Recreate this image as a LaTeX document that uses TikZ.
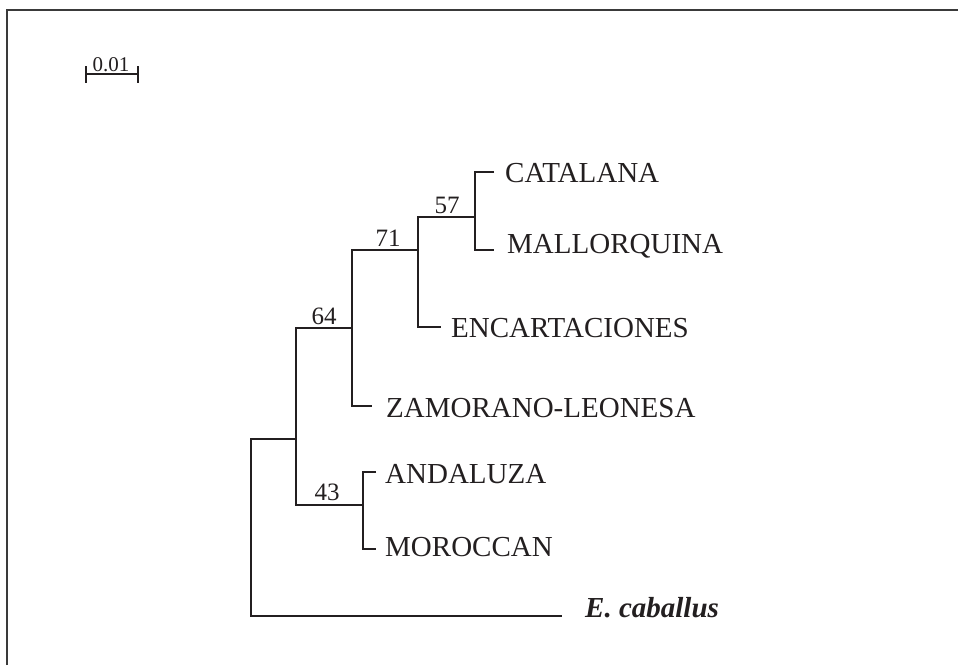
\documentclass[tikz,border=0pt]{standalone}
\usepackage{fontspec}
\setmainfont{Liberation Serif}
\usepackage{tikz}
\definecolor{ink}{HTML}{231F20}
\definecolor{rule}{HTML}{3A3A3A}
\tikzset{
  branch/.style={line width=1.8pt, draw=ink},
  taxon/.style={anchor=base west, inner sep=0pt, text=ink, font=\fontsize{29}{34}\selectfont},
  boot/.style={anchor=south, inner sep=0pt, text=ink, font=\fontsize{25}{30}\selectfont},
}

\begin{document}
\begin{tikzpicture}[x=1pt, y=-1pt]%
\useasboundingbox (0,0) rectangle (958,665);%
% frame (only top and left edges show)
\draw[line width=1.4pt, rule] (7,665) -- (7,10) -- (958,10);%
% scale bar
\coordinate (sbl) at (86,74);%
\coordinate (sbr) at (138,74);%
\draw[branch] (sbl) -- (sbr);%
\draw[branch] ([yshift=8pt]sbl) -- ([yshift=-9pt]sbl);%
\draw[branch] ([yshift=8pt]sbr) -- ([yshift=-9pt]sbr);%
\node[anchor=base, inner sep=0pt, text=ink, font=\fontsize{21}{25}\selectfont] (sblab) at (111,71) {0.01};%
% branch points
\coordinate (cat) at (494,172);%
\coordinate (mal) at (494,250);%
\coordinate (enc) at (441,327);%
\coordinate (zam) at (372,406);%
\coordinate (and) at (376,472);%
\coordinate (mor) at (376,549);%
\coordinate (cab) at (562,616);%
\coordinate (n57) at (475,217);%
\coordinate (n71) at (418,250);%
\coordinate (n64) at (352,328);%
\coordinate (n43) at (363,505);%
\coordinate (nin) at (296,439);%
\coordinate (root) at (251,527);%
% tree
\draw[branch] (cat) -| (n57) |- (mal);%
\draw[branch] (n57) -| (n71) |- (enc);%
\draw[branch] (n71) -| (n64) |- (zam);%
\draw[branch] (and) -| (n43) |- (mor);%
\draw[branch] (n64) -| (nin) |- (n43);%
\draw[branch] (nin) -| (root) |- (cab);%
% bootstrap values
\node[boot] (b57) at (447,214) {57};%
\node[boot] (b71) at (388,247) {71};%
\node[boot] (b64) at (324,325) {64};%
\node[boot] (b43) at (327,501) {43};%
% taxa
\node[taxon] (tcat) at (505,182) {CATALANA};%
\node[taxon] (tmal) at (507,253) {MALLORQUINA};%
\node[taxon] (tenc) at (451,337) {ENCARTACIONES};%
\node[taxon] (tzam) at (386,417) {ZAMORANO-LEONESA};%
\node[taxon] (tand) at (385,483) {ANDALUZA};%
\node[taxon] (tmor) at (385,556) {MOROCCAN};%
\node[taxon, font=\fontsize{29}{34}\selectfont\bfseries\itshape] (tcab) at (585,617) {E. caballus};%
\end{tikzpicture}
\end{document}
